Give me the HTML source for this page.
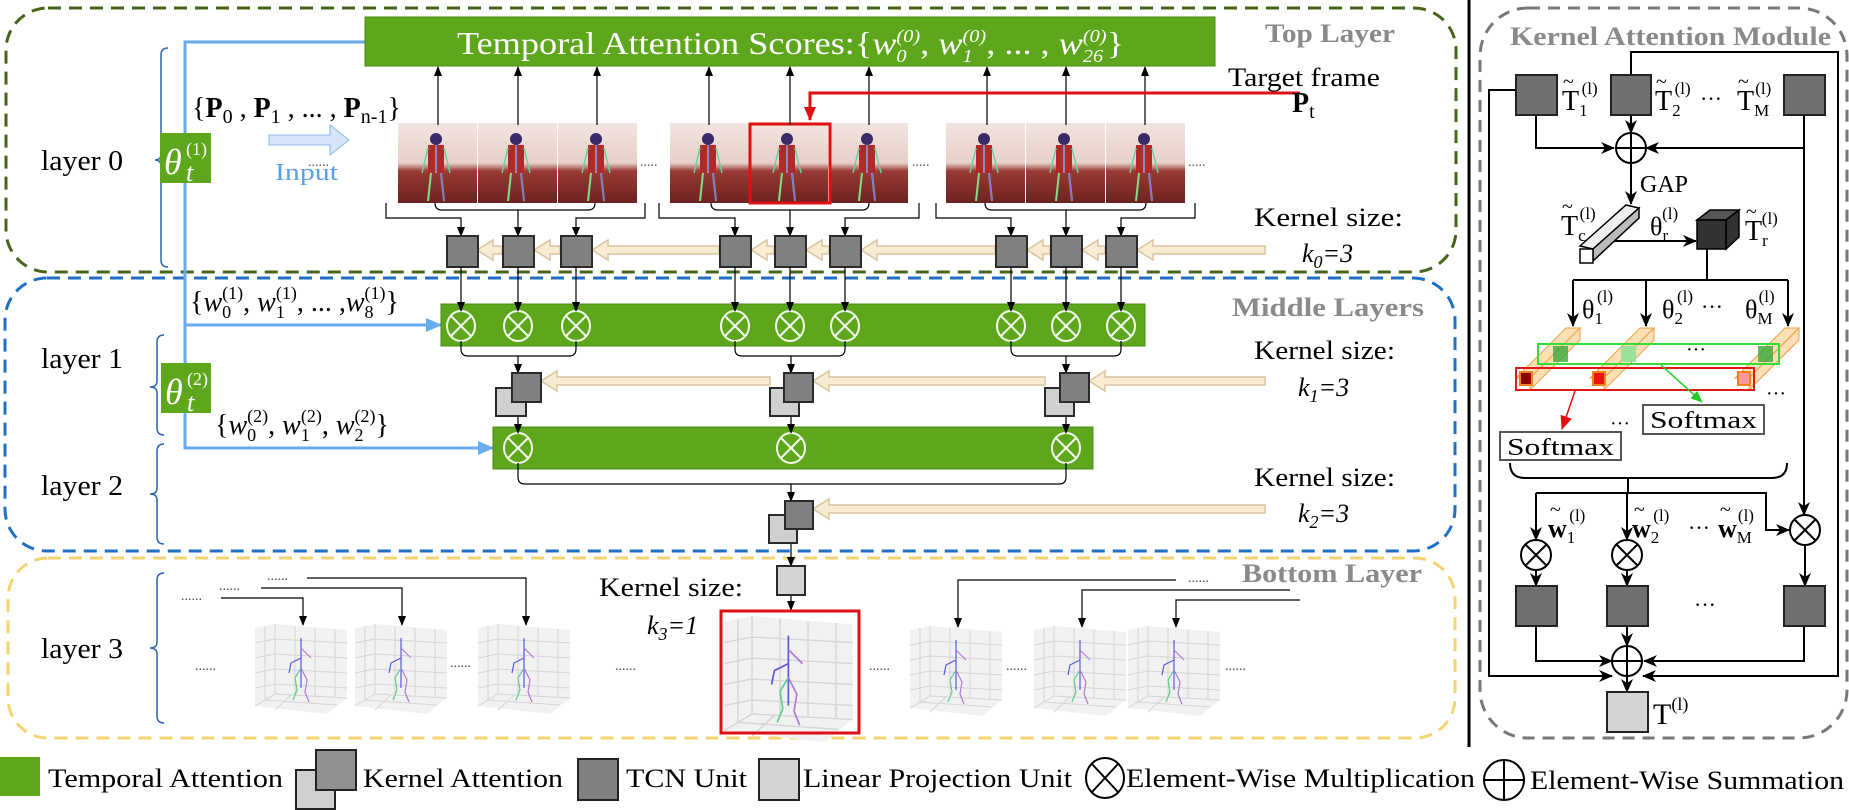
<!DOCTYPE html>
<html><head><meta charset="utf-8"><style>
html,body{margin:0;padding:0;background:#fff;}
svg{display:block;}
text{font-family:"Liberation Serif",serif;}
.s{font-family:"Liberation Serif",serif;}
.g{fill:#8a8a8a;font-weight:bold;}
</style></head><body>
<svg width="1849" height="810" viewBox="0 0 1849 810" xmlns="http://www.w3.org/2000/svg">
<defs>
<marker id="a" markerWidth="10" markerHeight="10" refX="9" refY="5" orient="auto" markerUnits="userSpaceOnUse"><path d="M0,1 L10,5 L0,9 Z" fill="#000"/></marker>
<marker id="ab" markerWidth="14" markerHeight="14" refX="13" refY="7" orient="auto" markerUnits="userSpaceOnUse"><path d="M0,1 L14,7 L0,13 L4,7 Z" fill="#000"/></marker>
<marker id="ar" markerWidth="14" markerHeight="14" refX="13" refY="7" orient="auto" markerUnits="userSpaceOnUse"><path d="M0,1 L14,7 L0,13 Z" fill="#e01010"/></marker>
<marker id="ag" markerWidth="12" markerHeight="12" refX="11" refY="6" orient="auto" markerUnits="userSpaceOnUse"><path d="M0,1 L12,6 L0,11 Z" fill="#22cc22"/></marker>
<marker id="abl" markerWidth="16" markerHeight="16" refX="15" refY="8" orient="auto" markerUnits="userSpaceOnUse"><path d="M0,1 L16,8 L0,15 Z" fill="#66aaf0"/></marker>
<linearGradient id="fr" x1="0" y1="0" x2="0" y2="1">
<stop offset="0" stop-color="#f3e4e0"/><stop offset="0.5" stop-color="#e6d0c8"/><stop offset="0.6" stop-color="#9a3a36"/><stop offset="1" stop-color="#6c2222"/></linearGradient>
<g id="frame">
<rect x="0" y="0" width="79" height="80" fill="url(#fr)"/>
<rect x="30" y="22" width="16" height="28" fill="#b02a28"/>
<circle cx="38" cy="16" r="6" fill="#3a2a6a"/>
<path d="M38,22 L38,50 M33,50 L30,78 M43,50 L46,78" stroke="#7fe08a" stroke-width="2" fill="none"/>
<path d="M38,22 L38,50 M43,50 L46,78" stroke="#8a6ad8" stroke-width="1.5" fill="none"/>
<path d="M30,25 L24,50 M46,25 L52,50" stroke="#6ad0a0" stroke-width="1.5" fill="none"/>
</g>
<g id="plot">
<polygon points="0,0 20,-4 92,2 92,70 72,86 0,78" fill="#f1f1f1"/>
<path d="M20,-4 L20,66 L92,70 M20,66 L0,78 M10,-2 L10,72 M40,-2 L40,67 M60,0 L60,68 M80,1 L80,69 M0,15 L20,11 L92,15 M0,30 L20,26 L92,30 M0,45 L20,41 L92,45 M0,60 L20,56 L92,60 M10,72 L82,77 M36,67 L20,82" stroke="#d4d4d4" stroke-width="1" fill="none"/>
<path d="M46,10 L46,60 M46,30 L36,35 L34,45" stroke="#5a5ad8" stroke-width="1.2" fill="none"/>
<path d="M46,40 L40,50 L42,62 L38,72" stroke="#5ad08a" stroke-width="1.2" fill="none"/>
<path d="M46,40 L52,52 L50,64 L54,74 M46,20 L56,30" stroke="#b07ad8" stroke-width="1.2" fill="none"/>
</g>
</defs>

<!-- dashed layer boxes -->
<rect x="6" y="8" width="1450" height="264" rx="42" fill="none" stroke="#46651a" stroke-width="3" stroke-dasharray="13,8"/>
<rect x="5" y="278" width="1450" height="273" rx="42" fill="none" stroke="#1f6fc4" stroke-width="3" stroke-dasharray="13,8"/>
<rect x="8" y="558" width="1447" height="180" rx="40" fill="none" stroke="#f4d472" stroke-width="3" stroke-dasharray="13,8"/>

<text x="1265" y="42" class="g" font-size="26" textLength="130" lengthAdjust="spacingAndGlyphs">Top Layer</text>
<text x="1232" y="316" class="g" font-size="26" textLength="192" lengthAdjust="spacingAndGlyphs">Middle Layers</text>
<text x="1242" y="582" class="g" font-size="26" textLength="180" lengthAdjust="spacingAndGlyphs">Bottom Layer</text>

<!-- layer labels & braces -->
<g font-size="28">
<text x="41" y="170" textLength="82" lengthAdjust="spacingAndGlyphs">layer 0</text>
<text x="41" y="368" textLength="82" lengthAdjust="spacingAndGlyphs">layer 1</text>
<text x="41" y="495" textLength="82" lengthAdjust="spacingAndGlyphs">layer 2</text>
<text x="41" y="658" textLength="82" lengthAdjust="spacingAndGlyphs">layer 3</text>
</g>
<g stroke="#2a64b0" stroke-width="1.5" fill="none">
<path d="M168,48 Q161,48 161,55 L161,154 Q161,160 155,160 Q161,160 161,166 L161,260 Q161,267 168,267"/>
<path d="M164,335 Q157,335 157,342 L157,381 Q157,387 150,387 Q157,387 157,393 L157,428 Q157,435 164,435"/>
<path d="M164,444 Q157,444 157,451 L157,488 Q157,494 150,494 Q157,494 157,500 L157,537 Q157,544 164,544"/>
<path d="M164,573 Q157,573 157,580 L157,642 Q157,648 150,648 Q157,648 157,654 L157,716 Q157,723 164,723"/>
</g>

<!-- blue attention lines -->
<path d="M365,42 L185,42 L185,448 L493,448" stroke="#66aaf0" stroke-width="3" fill="none" marker-end="url(#abl)"/>
<path d="M185,325 L441,325" stroke="#66aaf0" stroke-width="3" fill="none" marker-end="url(#abl)"/>
<rect x="160" y="133" width="51" height="50" fill="#5ea71c"/>
<text x="164" y="174" fill="#fff" font-size="36" font-style="italic">θ</text>
<text x="186" y="181" fill="#fff" font-size="26" font-style="italic">t</text>
<text x="186" y="155" fill="#fff" font-size="18">(1)</text>
<rect x="161" y="363" width="50" height="50" fill="#5ea71c"/>
<text x="165" y="404" fill="#fff" font-size="36" font-style="italic">θ</text>
<text x="187" y="411" fill="#fff" font-size="26" font-style="italic">t</text>
<text x="187" y="385" fill="#fff" font-size="18">(2)</text>

<!-- P set and Input -->
<text x="192" y="117" font-size="28">{<tspan font-weight="bold">P</tspan><tspan font-size="20" dy="6">0</tspan><tspan dy="-6"> , </tspan><tspan font-weight="bold">P</tspan><tspan font-size="20" dy="6">1</tspan><tspan dy="-6"> , ... , </tspan><tspan font-weight="bold">P</tspan><tspan font-size="20" dy="6">n-1</tspan><tspan dy="-6">}</tspan></text>
<path d="M269,135 L330,135 L330,125 L349,140 L330,155 L330,145 L269,145 Z" fill="#d6e6f8" stroke="#8fb8e8" stroke-width="1"/>
<text x="275" y="180" font-size="24" fill="#5aa0e8" textLength="63" lengthAdjust="spacingAndGlyphs">Input</text>
<text x="308" y="166" font-size="14" fill="#555">......</text>

<!-- title bar -->
<rect x="365" y="17" width="850" height="49" fill="#5ea71c" stroke="#4a8a14" stroke-width="1"/>
<text x="457" y="54" fill="#fff" font-size="32" textLength="667" lengthAdjust="spacingAndGlyphs">Temporal Attention Scores:{<tspan font-style="italic">w</tspan><tspan font-size="18" dy="8" font-style="italic">0</tspan><tspan font-size="18" dy="-20" dx="-9" font-style="italic">(0)</tspan><tspan dy="12">, </tspan><tspan font-style="italic">w</tspan><tspan font-size="18" dy="8" font-style="italic">1</tspan><tspan font-size="18" dy="-20" dx="-9" font-style="italic">(0)</tspan><tspan dy="12">, ... , </tspan><tspan font-style="italic">w</tspan><tspan font-size="18" dy="8" font-style="italic">26</tspan><tspan font-size="18" dy="-20" dx="-18" font-style="italic">(0)</tspan><tspan dy="12">}</tspan></text>

<!-- frames -->
<use href="#frame" x="398" y="123"/><use href="#frame" x="478" y="123"/><use href="#frame" x="558" y="123"/>
<use href="#frame" x="670" y="123"/><use href="#frame" x="749" y="123"/><use href="#frame" x="829" y="123"/>
<use href="#frame" x="946" y="123"/><use href="#frame" x="1026" y="123"/><use href="#frame" x="1106" y="123"/>
<rect x="750" y="124" width="80" height="79" fill="none" stroke="#e01010" stroke-width="3"/>
<g font-size="14" fill="#555"><text x="640" y="166">.....</text><text x="912" y="166">.....</text><text x="1188" y="166">.....</text></g>

<!-- up arrows -->
<g stroke="#000" stroke-width="1.2" marker-end="url(#a)">
<line x1="438" y1="125" x2="438" y2="67"/><line x1="518" y1="125" x2="518" y2="67"/><line x1="597" y1="125" x2="597" y2="67"/>
<line x1="709" y1="125" x2="709" y2="67"/><line x1="790" y1="125" x2="790" y2="67"/><line x1="869" y1="125" x2="869" y2="67"/>
<line x1="987" y1="125" x2="987" y2="67"/><line x1="1066" y1="125" x2="1066" y2="67"/><line x1="1145" y1="125" x2="1145" y2="67"/>
</g>
<!-- red target -->
<path d="M1300,93 L810,93 L810,120" stroke="#e01010" stroke-width="3" fill="none" marker-end="url(#ar)"/>
<text x="1228" y="86" font-size="26" textLength="152" lengthAdjust="spacingAndGlyphs">Target frame</text>
<text x="1292" y="112" font-size="28" font-weight="bold">P<tspan font-weight="normal" font-size="20" dy="6">t</tspan></text>

<!-- frames to TCN -->
<g stroke="#000" stroke-width="1.2" fill="none">
<path d="M435,203 Q435,210 442,210 L588,210 Q595,210 595,203"/>
<path d="M711,203 Q711,210 718,210 L862,210 Q869,210 869,203"/>
<path d="M985,203 Q985,210 992,210 L1139,210 Q1146,210 1146,203"/>
</g>
<g stroke="#000" stroke-width="1.2" fill="none" marker-end="url(#a)">
<path d="M386,203 L386,218 L461,218 L461,236"/><path d="M645,203 L645,218 L576,218 L576,236"/><path d="M518,210 L518,236"/>
<path d="M659,203 L659,218 L735,218 L735,236"/><path d="M919,203 L919,218 L845,218 L845,236"/><path d="M790,210 L790,236"/>
<path d="M936,203 L936,218 L1011,218 L1011,236"/><path d="M1195,203 L1195,218 L1121,218 L1121,236"/><path d="M1066,210 L1066,236"/>
</g>

<!-- beige arrows -->
<g fill="#f8ecd2" stroke="#d8c4a0" stroke-width="1.5">
<path d="M1265,246 L1153,246 L1153,240 L1137,250 L1153,260 L1153,254 L1265,254 Z"/>
<path d="M1105,246 L1098,246 L1098,240 L1082,250 L1098,260 L1098,254 L1105,254 Z"/>
<path d="M1050,246 L1043,246 L1043,240 L1027,250 L1043,260 L1043,254 L1050,254 Z"/>
<path d="M995,246 L877,246 L877,240 L861,250 L877,260 L877,254 L995,254 Z"/>
<path d="M829,246 L822,246 L822,240 L806,250 L822,260 L822,254 L829,254 Z"/>
<path d="M774,246 L767,246 L767,240 L751,250 L767,260 L767,254 L774,254 Z"/>
<path d="M719,246 L608,246 L608,240 L592,250 L608,260 L608,254 L719,254 Z"/>
<path d="M560,246 L550,246 L550,240 L534,250 L550,260 L550,254 L560,254 Z"/>
<path d="M502,246 L493,246 L493,240 L477,250 L493,260 L493,254 L502,254 Z"/>
<path d="M1265,377 L1105,377 L1105,371 L1089,381 L1105,391 L1105,385 L1265,385 Z"/>
<path d="M1045,377 L829,377 L829,371 L813,381 L829,391 L829,385 L1045,385 Z"/>
<path d="M770,377 L557,377 L557,371 L541,381 L557,391 L557,385 L770,385 Z"/>
<path d="M1265,505 L829,505 L829,499 L813,509 L829,519 L829,513 L1265,513 Z"/>
</g>

<!-- TCN squares top -->
<g fill="#808080" stroke="#2a2a2a" stroke-width="2">
<rect x="447" y="236" width="31" height="31"/><rect x="503" y="236" width="31" height="31"/><rect x="561" y="236" width="31" height="31"/>
<rect x="720" y="236" width="31" height="31"/><rect x="775" y="236" width="31" height="31"/><rect x="830" y="236" width="31" height="31"/>
<rect x="996" y="236" width="31" height="31"/><rect x="1051" y="236" width="31" height="31"/><rect x="1106" y="236" width="31" height="31"/>
</g>
<g font-size="26">
<text x="1254" y="226" textLength="149" lengthAdjust="spacingAndGlyphs">Kernel  size:</text>
<text x="1302" y="262" font-style="italic">k<tspan font-size="18" dy="6">0</tspan><tspan dy="-6">=3</tspan></text>
<text x="1254" y="359" textLength="141" lengthAdjust="spacingAndGlyphs">Kernel size:</text>
<text x="1298" y="396" font-style="italic">k<tspan font-size="18" dy="6">1</tspan><tspan dy="-6">=3</tspan></text>
<text x="1254" y="486" textLength="141" lengthAdjust="spacingAndGlyphs">Kernel size:</text>
<text x="1298" y="522" font-style="italic">k<tspan font-size="18" dy="6">2</tspan><tspan dy="-6">=3</tspan></text>
<text x="599" y="596" textLength="144" lengthAdjust="spacingAndGlyphs">Kernel size:</text>
<text x="647" y="634" font-style="italic">k<tspan font-size="18" dy="6">3</tspan><tspan dy="-6">=1</tspan></text>
</g>

<!-- middle set texts -->
<text x="190" y="311" font-size="28">{<tspan font-style="italic">w</tspan><tspan font-size="18" dy="7">0</tspan><tspan font-size="18" dy="-19" dx="-9">(1)</tspan><tspan dy="12">, </tspan><tspan font-style="italic">w</tspan><tspan font-size="18" dy="7">1</tspan><tspan font-size="18" dy="-19" dx="-9">(1)</tspan><tspan dy="12">, ... ,</tspan><tspan font-style="italic">w</tspan><tspan font-size="18" dy="7">8</tspan><tspan font-size="18" dy="-19" dx="-9">(1)</tspan><tspan dy="12">}</tspan></text>
<text x="215" y="434" font-size="28">{<tspan font-style="italic">w</tspan><tspan font-size="18" dy="7">0</tspan><tspan font-size="18" dy="-19" dx="-9">(2)</tspan><tspan dy="12">, </tspan><tspan font-style="italic">w</tspan><tspan font-size="18" dy="7">1</tspan><tspan font-size="18" dy="-19" dx="-9">(2)</tspan><tspan dy="12">, </tspan><tspan font-style="italic">w</tspan><tspan font-size="18" dy="7">2</tspan><tspan font-size="18" dy="-19" dx="-9">(2)</tspan><tspan dy="12">}</tspan></text>

<!-- green bars -->
<rect x="441" y="304" width="704" height="42" fill="#5ea71c" stroke="#4a8a14"/>
<rect x="493" y="427" width="600" height="42" fill="#5ea71c" stroke="#4a8a14"/>
<g stroke="#fff" stroke-width="2" fill="none">
<g id="ox"><circle cx="0" cy="0" r="14"/><path d="M-10,-10 L10,10 M10,-10 L-10,10"/></g>
</g>
<g stroke="#f4fff0" stroke-width="2" fill="none">
<g transform="translate(461,326)"><ellipse rx="14" ry="15"/><path d="M-10,-10 L10,10 M10,-10 L-10,10"/></g>
<g transform="translate(518,326)"><ellipse rx="14" ry="15"/><path d="M-10,-10 L10,10 M10,-10 L-10,10"/></g>
<g transform="translate(576,326)"><ellipse rx="14" ry="15"/><path d="M-10,-10 L10,10 M10,-10 L-10,10"/></g>
<g transform="translate(735,326)"><ellipse rx="14" ry="15"/><path d="M-10,-10 L10,10 M10,-10 L-10,10"/></g>
<g transform="translate(790,326)"><ellipse rx="14" ry="15"/><path d="M-10,-10 L10,10 M10,-10 L-10,10"/></g>
<g transform="translate(845,326)"><ellipse rx="14" ry="15"/><path d="M-10,-10 L10,10 M10,-10 L-10,10"/></g>
<g transform="translate(1011,326)"><ellipse rx="14" ry="15"/><path d="M-10,-10 L10,10 M10,-10 L-10,10"/></g>
<g transform="translate(1066,326)"><ellipse rx="14" ry="15"/><path d="M-10,-10 L10,10 M10,-10 L-10,10"/></g>
<g transform="translate(1121,326)"><ellipse rx="14" ry="15"/><path d="M-10,-10 L10,10 M10,-10 L-10,10"/></g>
<g transform="translate(518,448)"><ellipse rx="14" ry="15"/><path d="M-10,-10 L10,10 M10,-10 L-10,10"/></g>
<g transform="translate(791,448)"><ellipse rx="14" ry="15"/><path d="M-10,-10 L10,10 M10,-10 L-10,10"/></g>
<g transform="translate(1066,448)"><ellipse rx="14" ry="15"/><path d="M-10,-10 L10,10 M10,-10 L-10,10"/></g>
</g>
<g stroke="#000" stroke-width="1.2" fill="none" marker-end="url(#a)">
<line x1="461" y1="267" x2="461" y2="311"/><line x1="518" y1="267" x2="518" y2="311"/><line x1="576" y1="267" x2="576" y2="311"/>
<line x1="735" y1="267" x2="735" y2="311"/><line x1="790" y1="267" x2="790" y2="311"/><line x1="845" y1="267" x2="845" y2="311"/>
<line x1="1011" y1="267" x2="1011" y2="311"/><line x1="1066" y1="267" x2="1066" y2="311"/><line x1="1121" y1="267" x2="1121" y2="311"/>
<line x1="518" y1="356" x2="518" y2="373"/><line x1="791" y1="356" x2="791" y2="373"/><line x1="1066" y1="356" x2="1066" y2="373"/>
<line x1="518" y1="416" x2="518" y2="433"/><line x1="791" y1="416" x2="791" y2="433"/><line x1="1066" y1="416" x2="1066" y2="433"/>
<line x1="791" y1="484" x2="791" y2="501"/>
<line x1="791" y1="543" x2="791" y2="566"/>
<line x1="791" y1="595" x2="791" y2="610"/>
</g>
<g stroke="#000" stroke-width="1.2" fill="none">
<path d="M461,341 L461,349 Q461,356 468,356 L569,356 Q576,356 576,349 L576,341"/>
<path d="M735,341 L735,349 Q735,356 742,356 L838,356 Q845,356 845,349 L845,341"/>
<path d="M1011,341 L1011,349 Q1011,356 1018,356 L1114,356 Q1121,356 1121,349 L1121,341"/>
<path d="M518,463 L518,477 Q518,484 525,484 L1059,484 Q1066,484 1066,477 L1066,463"/>
</g>
<!-- kernel attention pairs -->
<g stroke="#2a2a2a" stroke-width="2">
<rect x="496" y="388" width="30" height="28" fill="#d0d0d0"/><rect x="512" y="373" width="29" height="29" fill="#808080"/>
<rect x="770" y="388" width="29" height="28" fill="#d0d0d0"/><rect x="784" y="373" width="29" height="29" fill="#808080"/>
<rect x="1045" y="388" width="29" height="28" fill="#d0d0d0"/><rect x="1060" y="373" width="29" height="29" fill="#808080"/>
<rect x="769" y="515" width="28" height="28" fill="#d0d0d0"/><rect x="785" y="501" width="28" height="28" fill="#808080"/>
<rect x="777" y="566" width="28" height="29" fill="#d4d4d4"/>
</g>

<!-- bottom layer plots -->
<use href="#plot" x="255" y="628"/><use href="#plot" x="355" y="628"/><use href="#plot" x="478" y="628"/>
<use href="#plot" x="910" y="630"/><use href="#plot" x="1034" y="630"/><use href="#plot" x="1128" y="630"/>
<g transform="translate(724,616) scale(1.4)"><use href="#plot" x="0" y="4"/></g>
<rect x="721" y="611" width="138" height="122" fill="none" stroke="#e01010" stroke-width="3"/>
<g stroke="#000" stroke-width="1.2" fill="none" marker-end="url(#a)">
<path d="M307,578 L526,578 L526,625"/><path d="M261,588 L402,588 L402,625"/><path d="M221,598 L303,598 L303,625"/>
<path d="M1176,580 L958,580 L958,627"/><path d="M1290,590 L1082,590 L1082,627"/><path d="M1300,600 L1176,600 L1176,627"/>
</g>
<g font-size="14" fill="#444">
<text x="267" y="580">......</text><text x="219" y="590">......</text><text x="181" y="600">......</text>
<text x="195" y="670">......</text><text x="450" y="667">......</text><text x="615" y="670">......</text>
<text x="869" y="670">......</text><text x="1006" y="670">......</text><text x="1188" y="582">......</text><text x="1225" y="670">......</text>
</g>

<!-- separator -->
<line x1="1469" y1="0" x2="1469" y2="747" stroke="#000" stroke-width="3"/>

<!-- Kernel Attention Module -->
<rect x="1480" y="8" width="367" height="730" rx="48" fill="none" stroke="#777" stroke-width="3" stroke-dasharray="12,8"/>
<text x="1510" y="45" class="g" font-size="26" textLength="321" lengthAdjust="spacingAndGlyphs">Kernel Attention Module</text>
<g stroke="#000" stroke-width="2" fill="none">
<path d="M1631,75 L1631,52 L1838,52 L1838,676 L1643,676" marker-end="url(#ab)"/>
<path d="M1516,90 L1489,90 L1489,676 L1612,676" marker-end="url(#ab)"/>
<path d="M1536,115 L1536,148 L1614,148" marker-end="url(#ab)"/>
<path d="M1804,115 L1804,148 L1646,148" marker-end="url(#ab)"/>
<path d="M1804,148 L1804,515" marker-end="url(#ab)"/>
<path d="M1631,115 L1631,133" marker-end="url(#ab)"/>
<path d="M1631,163 L1631,204" marker-end="url(#ab)"/>
<path d="M1598,241 L1696,241" marker-end="url(#ab)"/>
<path d="M1707,249 L1707,280"/>
<path d="M1573,280 L1788,280"/>
<path d="M1573,280 L1573,326" marker-end="url(#ab)"/>
<path d="M1646,280 L1646,326" marker-end="url(#ab)"/>
<path d="M1788,280 L1788,326" marker-end="url(#ab)"/>
<path d="M1510,463 Q1510,478 1525,478 L1772,478 Q1787,478 1787,463"/>
<path d="M1628,478 L1628,493"/>
<path d="M1536,493 L1766,493 L1766,530 L1789,530" marker-end="url(#ab)"/>
<path d="M1536,493 L1536,540" marker-end="url(#ab)"/>
<path d="M1627,493 L1627,540" marker-end="url(#ab)"/>
<path d="M1536,570 L1536,586" marker-end="url(#ab)"/>
<path d="M1627,570 L1627,586" marker-end="url(#ab)"/>
<path d="M1805,545 L1805,586" marker-end="url(#ab)"/>
<path d="M1536,626 L1536,661 L1612,661" marker-end="url(#ab)"/>
<path d="M1804,626 L1804,661 L1644,661" marker-end="url(#ab)"/>
<path d="M1627,626 L1627,646" marker-end="url(#ab)"/>
<path d="M1627,676 L1627,692" marker-end="url(#ab)"/>
</g>
<g fill="#fff" stroke="#000" stroke-width="2">
<circle cx="1631" cy="148" r="15"/><circle cx="1627" cy="661" r="15"/>
<circle cx="1536" cy="555" r="15"/><circle cx="1627" cy="555" r="15"/><circle cx="1805" cy="530" r="15"/>
</g>
<g stroke="#000" stroke-width="2">
<path d="M1616,148 L1646,148 M1631,133 L1631,163"/><path d="M1612,661 L1642,661 M1627,646 L1627,676"/>
<path d="M1525,544 L1547,566 M1547,544 L1525,566"/><path d="M1616,544 L1638,566 M1638,544 L1616,566"/><path d="M1794,519 L1816,541 M1816,519 L1794,541"/>
</g>
<g fill="#707070" stroke="#222" stroke-width="2">
<rect x="1516" y="75" width="41" height="40"/><rect x="1611" y="75" width="40" height="40"/><rect x="1784" y="75" width="41" height="40"/>
<rect x="1516" y="586" width="41" height="40"/><rect x="1607" y="586" width="41" height="40"/><rect x="1784" y="586" width="41" height="40"/>
</g>
<rect x="1607" y="692" width="41" height="40" fill="#d4d4d4" stroke="#222" stroke-width="2"/>
<text x="1653" y="724" font-size="30">T<tspan font-size="18" dy="-14">(l)</tspan></text>
<g font-size="28">
<text x="1562" y="110">T<tspan font-size="17" dy="6">1</tspan><tspan font-size="17" dy="-22" dx="-6">(l)</tspan></text>
<text x="1655" y="110">T<tspan font-size="17" dy="6">2</tspan><tspan font-size="17" dy="-22" dx="-6">(l)</tspan></text>
<text x="1700" y="106" font-size="22">···</text>
<text x="1737" y="110">T<tspan font-size="17" dy="6">M</tspan><tspan font-size="17" dy="-22" dx="-14">(l)</tspan></text>
<text x="1563" y="88" font-size="20">~</text><text x="1656" y="88" font-size="20">~</text><text x="1738" y="88" font-size="20">~</text>
<text x="1640" y="192" font-size="24">GAP</text>
<text x="1561" y="235">T<tspan font-size="17" dy="6">c</tspan><tspan font-size="17" dy="-22" dx="-6">(l)</tspan></text>
<text x="1562" y="213" font-size="20">~</text>
<text x="1650" y="235" font-size="26">θ<tspan font-size="17" dy="6">r</tspan><tspan font-size="17" dy="-22" dx="-6">(l)</tspan></text>
<text x="1745" y="240">T<tspan font-size="17" dy="6">r</tspan><tspan font-size="17" dy="-22" dx="-6">(l)</tspan></text>
<text x="1746" y="218" font-size="20">~</text>
<text x="1582" y="318" font-size="26">θ<tspan font-size="17" dy="6">1</tspan><tspan font-size="17" dy="-22" dx="-6">(l)</tspan></text>
<text x="1662" y="318" font-size="26">θ<tspan font-size="17" dy="6">2</tspan><tspan font-size="17" dy="-22" dx="-6">(l)</tspan></text>
<text x="1701" y="314" font-size="22">···</text>
<text x="1745" y="318" font-size="26">θ<tspan font-size="17" dy="6">M</tspan><tspan font-size="17" dy="-22" dx="-14">(l)</tspan></text>
<text x="1548" y="537" font-weight="bold" font-size="26">w<tspan font-weight="normal" font-size="17" dy="6">1</tspan><tspan font-weight="normal" font-size="17" dy="-22" dx="-6">(l)</tspan></text>
<text x="1632" y="537" font-weight="bold" font-size="26">w<tspan font-weight="normal" font-size="17" dy="6">2</tspan><tspan font-weight="normal" font-size="17" dy="-22" dx="-6">(l)</tspan></text>
<text x="1688" y="535" font-size="22">···</text>
<text x="1718" y="537" font-weight="bold" font-size="26">w<tspan font-weight="normal" font-size="17" dy="6">M</tspan><tspan font-weight="normal" font-size="17" dy="-22" dx="-14">(l)</tspan></text>
<text x="1550" y="516" font-size="20">~</text><text x="1634" y="516" font-size="20">~</text><text x="1720" y="516" font-size="20">~</text>
<text x="1694" y="612" font-size="22">···</text>
</g>
<!-- Tc bar and Tr cube -->
<polygon points="1580,246 1626,205 1639,208 1593,249" fill="#eee" stroke="#000" stroke-width="1.5"/>
<polygon points="1593,249 1639,208 1639,218 1593,261" fill="#bbb" stroke="#000" stroke-width="1.5"/>
<rect x="1580" y="249" width="13" height="14" fill="#fff" stroke="#000" stroke-width="1.5"/>
<polygon points="1697,220 1710,210 1739,210 1726,220" fill="#555" stroke="#000" stroke-width="1.5"/>
<polygon points="1726,220 1739,210 1739,237 1726,249" fill="#333" stroke="#000" stroke-width="1.5"/>
<rect x="1697" y="220" width="29" height="29" fill="#333" stroke="#000" stroke-width="1.5"/>
<!-- orange bars -->
<g fill="#f6b860" fill-opacity="0.45" stroke="#f0a040" stroke-width="1">
<polygon points="1516,378 1566,328 1580,328 1530,378"/><polygon points="1530,378 1580,328 1580,340 1530,390"/>
<polygon points="1590,378 1640,328 1654,328 1604,378"/><polygon points="1604,378 1654,328 1654,340 1604,390"/>
<polygon points="1735,378 1785,328 1799,328 1749,378"/><polygon points="1749,378 1799,328 1799,340 1749,390"/>
</g>
<rect x="1553" y="346" width="15" height="16" fill="#3aa83a" fill-opacity="0.8"/>
<rect x="1621" y="346" width="15" height="16" fill="#9be09b"/>
<rect x="1758" y="346" width="15" height="16" fill="#3aa83a" fill-opacity="0.8"/>
<rect x="1538" y="344" width="241" height="20" fill="none" stroke="#33dd33" stroke-width="2"/>
<rect x="1520" y="372" width="12" height="13" fill="#8b0000" stroke="#f08020" stroke-width="2"/>
<rect x="1593" y="372" width="12" height="13" fill="#f01010" stroke="#f08020" stroke-width="2"/>
<rect x="1738" y="372" width="12" height="13" fill="#ff9a9a" stroke="#f08020" stroke-width="2"/>
<rect x="1516" y="368" width="238" height="22" fill="none" stroke="#e01818" stroke-width="2"/>
<text x="1686" y="356" font-size="20">···</text>
<line x1="1575" y1="391" x2="1562" y2="429" stroke="#e01010" stroke-width="1.5" marker-end="url(#ar)"/>
<line x1="1661" y1="365" x2="1702" y2="402" stroke="#22cc22" stroke-width="1.5" marker-end="url(#ag)"/>
<rect x="1500" y="432" width="121" height="28" fill="#fff" stroke="#555" stroke-width="2"/>
<text x="1507" y="455" font-size="24" textLength="107" lengthAdjust="spacingAndGlyphs">Softmax</text>
<rect x="1643" y="405" width="121" height="29" fill="#fff" stroke="#555" stroke-width="2"/>
<text x="1650" y="428" font-size="24" textLength="107" lengthAdjust="spacingAndGlyphs">Softmax</text>
<text x="1610" y="430" font-size="20">···</text>
<text x="1766" y="400" font-size="20">···</text>

<!-- legend -->
<rect x="0" y="757" width="40" height="39" fill="#5ea71c"/>
<text x="48" y="787" font-size="26" textLength="235" lengthAdjust="spacingAndGlyphs">Temporal Attention</text>
<rect x="296" y="770" width="39" height="39" fill="#d0d0d0" stroke="#222" stroke-width="2"/>
<rect x="316" y="750" width="40" height="40" fill="#909090" stroke="#222" stroke-width="2"/>
<text x="363" y="787" font-size="26" textLength="200" lengthAdjust="spacingAndGlyphs">Kernel Attention</text>
<rect x="578" y="759" width="40" height="41" fill="#808080" stroke="#222" stroke-width="2"/>
<text x="626" y="787" font-size="26" textLength="121" lengthAdjust="spacingAndGlyphs">TCN Unit</text>
<rect x="759" y="759" width="40" height="41" fill="#d4d4d4" stroke="#222" stroke-width="2"/>
<text x="803" y="787" font-size="26" textLength="269" lengthAdjust="spacingAndGlyphs">Linear Projection Unit</text>
<ellipse cx="1105" cy="778" rx="19" ry="20" fill="none" stroke="#000" stroke-width="2"/>
<path d="M1092,764 L1118,792 M1118,764 L1092,792" stroke="#000" stroke-width="2"/>
<text x="1126" y="787" font-size="26" textLength="349" lengthAdjust="spacingAndGlyphs">Element-Wise Multiplication</text>
<circle cx="1504" cy="780" r="20" fill="none" stroke="#000" stroke-width="2"/>
<path d="M1484,780 L1524,780 M1504,760 L1504,800" stroke="#000" stroke-width="2"/>
<text x="1530" y="789" font-size="26" textLength="314" lengthAdjust="spacingAndGlyphs">Element-Wise Summation</text>
</svg>
</body></html>
